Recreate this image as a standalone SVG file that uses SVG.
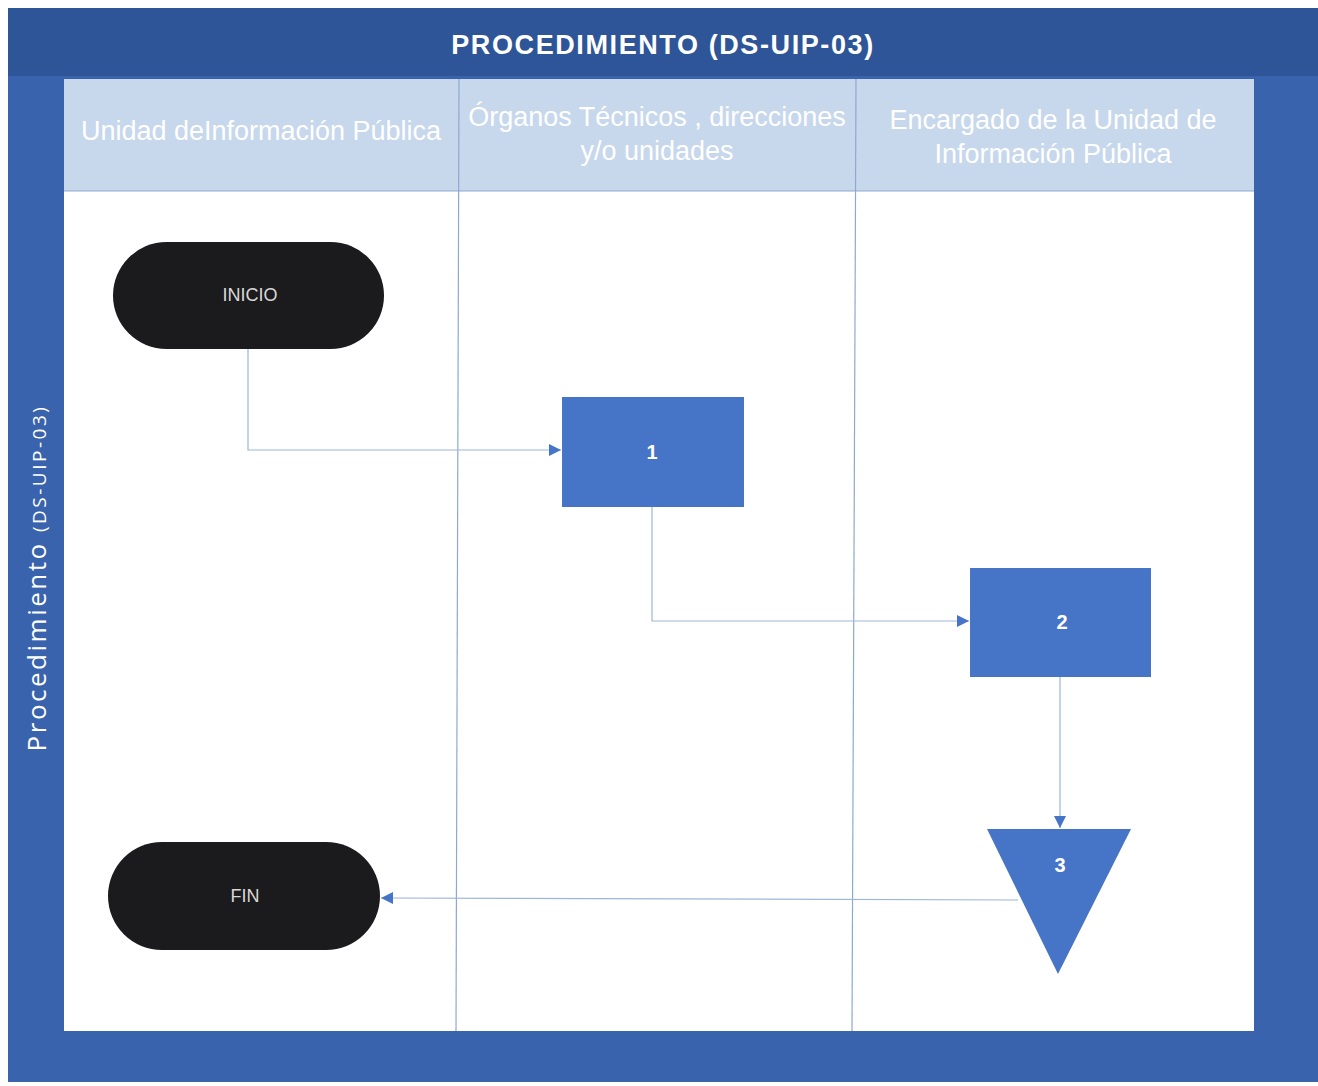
<svg xmlns="http://www.w3.org/2000/svg" width="1318" height="1086" viewBox="0 0 1318 1086">
<style>
.frame{fill:#3a63ad}
.title{fill:#2d5597}
.hdr{fill:#c7d7ec}
.hdrtxt{font-family:"Liberation Sans",Arial,sans-serif;font-size:27px;fill:#ffffff;text-anchor:middle}
.lane{stroke:#8fa8cf;stroke-width:1.2;fill:none}
.term{fill:#1b1a1c}
.termtxt{font-family:"Liberation Sans",Arial,sans-serif;font-size:18px;fill:#d8d8d8;text-anchor:middle}
.proc{fill:#4674c6}
.num{font-family:"Liberation Sans",Arial,sans-serif;font-size:20px;font-weight:bold;fill:#ffffff;text-anchor:middle}
.conn{stroke:#9db5dc;stroke-width:1.2;fill:none}
</style>
<defs>
<marker id="arr" viewBox="0 0 10 10" refX="10" refY="5" markerWidth="12" markerHeight="12" markerUnits="userSpaceOnUse" orient="auto">
<path d="M0,0 L10,5 L0,10 z" fill="#4674c6"/>
</marker>
</defs>
<rect x="0" y="0" width="1318" height="1086" fill="#ffffff"/>
<g id="pool">
<rect class="frame" x="8" y="8" width="1310" height="1074"/>
<rect class="title" x="8" y="8" width="1310" height="68"/>
<rect class="hdr" x="64" y="79" width="1190" height="112"/>
<rect x="64" y="191" width="1190" height="840" fill="#ffffff"/>
<text x="663" y="54" font-family="Liberation Sans,Arial,sans-serif" font-size="27" font-weight="bold" letter-spacing="1.6" fill="#ffffff" text-anchor="middle">PROCEDIMIENTO (DS-UIP-03)</text>
<text transform="translate(46,578) rotate(-90)" font-family="Open Sans,sans-serif" fill="#ffffff" text-anchor="middle"><tspan font-size="26" letter-spacing="2.5">Procedimiento </tspan><tspan font-size="19" letter-spacing="2.5">(DS-UIP-03)</tspan></text>
</g>
<g id="lanes">
<line class="lane" x1="459" y1="79" x2="456" y2="1031"/>
<line class="lane" x1="856" y1="79" x2="852" y2="1031"/>
<line class="lane" x1="64" y1="191" x2="1254" y2="191"/>
<text class="hdrtxt" x="261" y="140">Unidad deInformación Pública</text>
<text class="hdrtxt" x="657" y="126">Órganos Técnicos , direcciones</text>
<text class="hdrtxt" x="657" y="160">y/o unidades</text>
<text class="hdrtxt" x="1053" y="129">Encargado de la Unidad de</text>
<text class="hdrtxt" x="1053" y="163">Información Pública</text>
</g>
<g id="connectors">
<path class="conn" d="M248,349 V450 H561" marker-end="url(#arr)"/>
<path class="conn" d="M652,507 V621 H969" marker-end="url(#arr)"/>
<path class="conn" d="M1060,677 V828" marker-end="url(#arr)"/>
<path class="conn" d="M1018,900 L381,898" marker-end="url(#arr)"/>
</g>
<g id="inicio">
<rect class="term" x="113" y="242" width="271" height="107" rx="53.5"/>
<text class="termtxt" x="250" y="301">INICIO</text>
</g>
<g id="n1">
<rect class="proc" x="562" y="397" width="182" height="110"/>
<text class="num" x="652" y="459">1</text>
</g>
<g id="n2">
<rect class="proc" x="970" y="568" width="181" height="109"/>
<text class="num" x="1062" y="629">2</text>
</g>
<g id="n3">
<polygon class="proc" points="987,829 1131,829 1058,974"/>
<text class="num" x="1060" y="872">3</text>
</g>
<g id="fin">
<rect class="term" x="108" y="842" width="272" height="108" rx="54"/>
<text class="termtxt" x="245" y="902">FIN</text>
</g>
</svg>
